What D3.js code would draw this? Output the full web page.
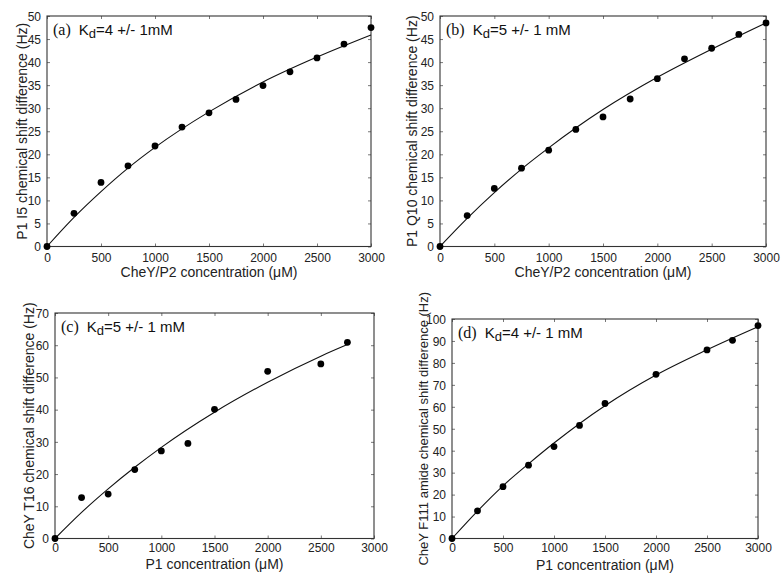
<!DOCTYPE html>
<html>
<head>
<meta charset="utf-8">
<script src="https://cdn.jsdelivr.net/npm/d3@7"></script>
<style>
  body { margin: 0; background: #fff; }
  svg { display: block; }
  .tick text { font-family: "Liberation Sans", Arial, sans-serif; font-size: 12px; fill: #222; }
  .title { font-family: "Liberation Sans", Arial, sans-serif; font-size: 14px; fill: #222; }
</style>
</head>
<body>
<svg id="chart" width="783" height="574"></svg>
<script>
'use strict';

// measured points (uM, Hz)
var concA = [0, 250, 500, 750, 1000, 1250, 1500, 1750, 2000, 2250, 2500, 2750, 3000];
var shiftA = [0, 7.2, 13.9, 17.5, 21.8, 25.9, 29.0, 31.9, 34.9, 37.9, 40.9, 43.9, 47.5];

var concB = [0, 250, 500, 750, 1000, 1250, 1500, 1750, 2000, 2250, 2500, 2750, 3000];
var shiftB = [0, 6.7, 12.6, 17.0, 20.9, 25.4, 28.1, 32.0, 36.4, 40.7, 43.0, 46.0, 48.5];

var concC = [0, 250, 500, 750, 1000, 1250, 1500, 2000, 2500, 2750];
var shiftC = [0, 12.7, 13.8, 21.4, 27.2, 29.5, 40.1, 51.9, 54.2, 60.9];

var concD = [0, 250, 500, 750, 1000, 1250, 1500, 2000, 2500, 2750, 3000];
var shiftD = [0, 12.6, 23.6, 33.4, 41.9, 51.5, 61.5, 74.8, 85.9, 90.3, 97.0];

// fitted curves
var fitX = [0, 250, 500, 750, 1000, 1500, 2000, 2500, 3000];
var fitXC = [0, 250, 500, 750, 1000, 1500, 2000, 2500, 2750];
var fitA = [0, 6.3, 11.9, 17.0, 21.5, 29.2, 35.7, 41.1, 45.9];
var fitB = [0, 6.1, 11.7, 16.8, 21.4, 29.7, 36.7, 42.8, 48.5];
var fitC = [0, 8.1, 15.4, 22.1, 28.3, 39.2, 48.5, 56.6, 60.2];
var fitD = [0, 12.5, 24.0, 34.0, 43.5, 60.5, 74.5, 86.0, 96.5];

var xTicks = [0, 500, 1000, 1500, 2000, 2500, 3000];
var yTicksAB = [0, 5, 10, 15, 20, 25, 30, 35, 40, 45, 50];
var yTicksC = [0, 10, 20, 30, 40, 50, 60, 70];
var yTicksD = [0, 10, 20, 30, 40, 50, 60, 70, 80, 90, 100];

var panels = [
    { tag: '(a)', kd: '=4 +/- 1mM', x: concA, y: shiftA, fx: fitX, fy: fitA, yTicks: yTicksAB,
      xLabel: 'CheY/P2 concentration (\u03bcM)', yLabel: 'P1 I5 chemical shift difference (Hz)',
      box: [47, 16, 371, 246.5], yLabelX: 22, xTickY: 262, xLabelY: 277, yFont: 14 },
    { tag: '(b)', kd: '=5 +/- 1 mM', x: concB, y: shiftB, fx: fitX, fy: fitB, yTicks: yTicksAB,
      xLabel: 'CheY/P2 concentration (\u03bcM)', yLabel: 'P1 Q10 chemical shift difference (Hz)',
      box: [440, 16, 766, 246.5], yLabelX: 412, xTickY: 262, xLabelY: 277, yFont: 14 },
    { tag: '(c)', kd: '=5 +/- 1 mM', x: concC, y: shiftC, fx: fitXC, fy: fitC, yTicks: yTicksC,
      xLabel: 'P1 concentration (\u03bcM)', yLabel: 'CheY T16 chemical shift difference (Hz)',
      box: [55, 313, 374, 538.5], yLabelX: 29, xTickY: 552, xLabelY: 569, yFont: 14 },
    { tag: '(d)', kd: '=4 +/- 1 mM', x: concD, y: shiftD, fx: fitX, fy: fitD, yTicks: yTicksD,
      xLabel: 'P1 concentration (\u03bcM)', yLabel: 'CheY F111 amide chemical shift difference (Hz)',
      box: [452, 319, 758, 538.5], yLabelX: 423, xTickY: 552, xLabelY: 570, yFont: 13 }
];

var svg = d3.select('#chart');

function drawPanel( p ){
    var x0 = p.box[0], y0 = p.box[1], x1 = p.box[2], y1 = p.box[3],
        yMax = p.yTicks[p.yTicks.length - 1],
        xScale = d3.scaleLinear().domain([0, 3000]).range([x0, x1]),
        yScale = d3.scaleLinear().domain([0, yMax]).range([y1, y0]),
        fmt = d3.format('d'),
        g = svg.append('g');

    // inward ticks on all four sides
    var bottom = g.append('g').attr('transform', 'translate(0,' + y1 + ')')
        .call(d3.axisBottom(xScale).tickValues(xTicks).tickSize(-3).tickFormat(fmt));
    var top = g.append('g').attr('transform', 'translate(0,' + y0 + ')')
        .call(d3.axisTop(xScale).tickValues(xTicks).tickSize(-3).tickFormat(''));
    var left = g.append('g').attr('transform', 'translate(' + x0 + ',0)')
        .call(d3.axisLeft(yScale).tickValues(p.yTicks).tickSize(-3).tickPadding(6).tickFormat(fmt));
    var right = g.append('g').attr('transform', 'translate(' + x1 + ',0)')
        .call(d3.axisRight(yScale).tickValues(p.yTicks).tickSize(-3).tickFormat(''));

    [bottom, top, left, right].forEach(function( a ){
        a.select('.domain').remove();
        a.selectAll('.tick line').attr('stroke', '#555').attr('stroke-width', 0.8);
        a.attr('font-size', null).attr('font-family', null);
    });
    bottom.selectAll('.tick text').attr('dy', null).attr('y', p.xTickY - y1);
    left.selectAll('.tick text').attr('dy', '0.36em');

    g.append('rect')
        .attr('x', x0).attr('y', y0)
        .attr('width', x1 - x0).attr('height', y1 - y0)
        .attr('fill', 'none').attr('stroke', '#333').attr('stroke-width', 1.1);

    var line = d3.line()
        .x(function( d, i ){ return xScale(p.fx[i]); })
        .y(function( d ){ return yScale(d); })
        .curve(d3.curveMonotoneX);

    g.append('path')
        .attr('d', line(p.fy))
        .attr('fill', 'none')
        .attr('stroke', '#111')
        .attr('stroke-width', 1.1);

    g.selectAll('circle.pt').data(p.y).enter().append('circle')
        .attr('class', 'pt')
        .attr('cx', function( d, i ){ return xScale(p.x[i]); })
        .attr('cy', function( d ){ return yScale(d); })
        .attr('r', 3.4)
        .attr('fill', '#000');

    // annotation
    var note = g.append('text')
        .attr('x', x0 + 6).attr('y', y0 + 19)
        .attr('fill', '#111');
    note.append('tspan')
        .attr('font-family', '"Liberation Serif", "Times New Roman", serif')
        .attr('font-size', '16px')
        .text(p.tag);
    note.append('tspan')
        .attr('font-family', '"Liberation Sans", Arial, sans-serif')
        .attr('font-size', '15px')
        .attr('dx', 8)
        .text('K');
    note.append('tspan')
        .attr('font-family', '"Liberation Sans", Arial, sans-serif')
        .attr('font-size', '13px')
        .attr('dy', 3)
        .text('d');
    note.append('tspan')
        .attr('font-family', '"Liberation Sans", Arial, sans-serif')
        .attr('font-size', '15px')
        .attr('dy', -3)
        .text(p.kd);

    g.append('text')
        .attr('class', 'title')
        .attr('x', (x0 + x1) / 2).attr('y', p.xLabelY)
        .attr('text-anchor', 'middle')
        .text(p.xLabel);

    g.append('text')
        .attr('class', 'title')
        .attr('transform', 'translate(' + p.yLabelX + ',' + ((y0 + y1) / 2) + ') rotate(-90)')
        .attr('text-anchor', 'middle')
        .attr('dy', '0.35em')
        .style('font-size', p.yFont + 'px')
        .text(p.yLabel);
}

panels.forEach(drawPanel);
</script>
</body>
</html>
